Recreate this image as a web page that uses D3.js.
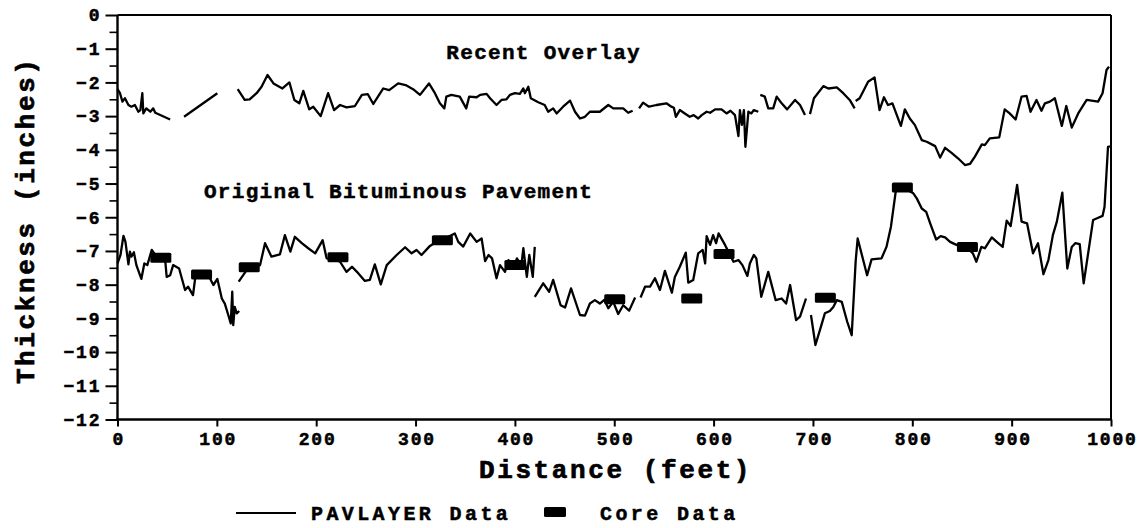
<!DOCTYPE html>
<html>
<head>
<meta charset="utf-8">
<script src="https://cdn.jsdelivr.net/npm/d3@7"></script>
<style>
  html, body { margin: 0; padding: 0; background: #fff; }
  svg { display: block; }
  text { font-family: "Liberation Mono", "DejaVu Sans Mono", monospace; font-weight: bold; fill: #000; stroke: #000; stroke-width: 0.5px; }
</style>
</head>
<body>
<svg id="chart" width="1146" height="528"></svg>
<script>
// ---------------- DATA ----------------
const xTicks = [0, 100, 200, 300, 400, 500, 600, 700, 800, 900, 1000];
const yTicks = [0, -1, -2, -3, -4, -5, -6, -7, -8, -9, -10, -11, -12];
const yMinorTicks = [-0.5, -1.5, -2.5, -3.5, -4.5, -5.5, -6.5, -7.5, -8.5, -9.5, -10.5, -11.5];

// Recent overlay (PAVLAYER), [distance ft, thickness in]; null = gap
const overlayData = [
  [0,-2.2],[2.5,-2.32],[5,-2.57],[7.5,-2.47],[11,-2.67],[14,-2.72],[17.5,-2.67],[21,-2.87],[23,-2.82],[25,-2.32],[26,-2.92],[29,-2.77],[33,-2.87],[36,-2.77],[38,-2.9],[53,-3.1],
  null,
  [67,-3.02],[100.5,-2.32],
  null,
  [121,-2.2],[128,-2.52],[133,-2.5],[140,-2.32],[145,-2.13],[151,-1.78],[157,-2.03],[166,-2.18],[173,-2.0],[178,-2.52],[183,-2.62],[187,-2.25],[193,-2.8],[197,-2.72],[204.5,-3.0],[212,-2.32],[218,-2.82],[224,-2.67],[230.5,-2.74],[239,-2.7],[246,-2.37],[252,-2.35],[257.5,-2.64],[267.5,-2.18],[273.5,-2.23],[282.5,-2.03],[290,-2.08],[297.5,-2.2],[304.5,-2.37],[313.5,-2.03],[319.5,-2.32],[324.5,-2.62],[329,-2.77],[331,-2.42],[336,-2.37],[344.5,-2.42],[351,-2.77],[354,-2.42],[361.5,-2.44],[365,-2.37],[371.5,-2.34],[375,-2.47],[381.5,-2.67],[386.5,-2.52],[391.5,-2.5],[395,-2.37],[400,-2.32],[405,-2.34],[408.5,-2.18],[410,-2.32],[413.5,-2.13],[416,-2.47],[423.5,-2.59],[430,-2.67],[433.5,-2.87],[438.5,-2.77],[442,-2.92],[448.5,-2.72],[455.5,-2.54],[460.5,-2.87],[465.5,-3.07],[470.5,-3.02],[475.5,-2.87],[485.5,-2.87],[494,-2.67],[499,-2.77],[505.5,-2.77],[509,-2.77],[514,-2.9],[518.5,-2.84],
  null,
  [525,-2.77],[529,-2.6],[535,-2.72],[542.5,-2.67],[552.5,-2.62],[557.5,-2.72],[560,-2.75],[562,-3.02],[566,-2.82],[571,-2.92],[576,-3.02],[580,-2.97],[584.5,-3.07],[588,-2.97],[593,-2.87],[596.5,-2.9],[601.5,-2.8],[608,-2.8],[613,-2.92],[617,-2.84],[621.5,-2.97],[625,-3.59],[626.5,-2.82],[628.5,-3.26],[630.5,-2.82],[632,-3.91],[635,-2.87],[638,-2.92],[640.5,-2.82],[645,-2.87],
  null,
  [647,-2.37],[651.5,-2.42],[655,-2.77],[660,-2.77],[663.5,-2.42],[668.5,-2.62],[674,-2.8],[682,-2.52],[687,-2.67],[692,-2.97],
  null,
  [697,-2.94],[701,-2.47],[710.5,-2.11],[715.5,-2.18],[724,-2.15],[730.5,-2.32],[737,-2.52],[742,-2.77],
  null,
  [743,-2.55],[747,-2.47],[750.5,-2.27],[755.5,-1.98],[762,-1.85],[767,-2.82],[771.5,-2.44],[775.5,-2.67],[780,-2.62],[788.5,-3.29],[792.5,-2.8],[797.5,-3.07],[802.5,-3.26],[809.5,-3.71],[814.5,-3.76],[823,-3.89],[828,-4.23],[833,-3.94],[839.5,-4.09],[846,-4.25],[853,-4.45],[858,-4.42],[863,-4.2],[870,-3.84],[873,-3.86],[878,-3.66],[887.5,-3.63],[893,-2.8],[898,-2.92],[904,-3.1],[910,-2.42],[915,-2.4],[919,-2.87],[925,-2.52],[930,-2.84],[933.5,-2.62],[938.5,-2.57],[943.5,-2.47],[950.5,-3.29],[955,-2.7],[960.5,-3.34],[967,-2.92],[975.5,-2.52],[980.5,-2.54],[987,-2.57],[991.5,-2.32],[995.5,-1.63],[998,-1.53]
];

// Original bituminous pavement (PAVLAYER)
const pavementData = [
  [0,-7.37],[3,-7.12],[6,-6.55],[8,-6.73],[11,-7.4],[12.5,-7.02],[14,-7.17],[16.5,-7.04],[19,-7.42],[24,-7.83],[27,-7.37],[30,-7.42],[34.5,-6.97],[40,-7.2],[47,-7.25],[48,-7.27],[49.5,-7.77],[53,-7.72],[56,-7.42],[62,-7.52],[68,-8.16],[71,-8.06],[76,-8.31],[79,-7.62],[86,-7.7],[93,-7.81],[96.5,-8.01],[100.5,-7.83],[105,-8.41],[108,-8.56],[111.5,-8.9],[114,-9.15],[115.5,-8.21],[116.5,-9.2],[118,-8.66],[120,-8.85],[122.5,-8.78],
  null,
  [122,-7.91],[130,-7.57],[137,-7.5],[143.5,-7.42],[148.5,-6.77],[155,-7.17],[163.5,-7.1],[168.5,-6.53],[174,-7.02],[178.5,-6.58],[185.5,-6.77],[192,-6.92],[199,-7.07],[206.5,-6.68],[210.5,-7.22],[218,-7.25],[224,-7.32],[230.5,-7.62],[236,-7.47],[241,-7.62],[249,-7.89],[254,-7.86],[259,-7.4],[265,-7.99],[271,-7.42],[281,-7.12],[289.5,-6.89],[296,-7.07],[301,-6.97],[306,-7.12],[314.5,-6.85],[320,-6.75],[326,-6.68],[339.5,-6.48],[343,-6.73],[348,-6.87],[355,-6.48],[361.5,-6.73],[366.5,-6.63],[370,-7.3],[373.5,-7.12],[377,-7.22],[381.5,-7.81],[385,-7.42],[390,-7.62],[393.5,-7.27],[398.5,-7.52],[402,-7.22],[406.5,-7.42],[408.5,-6.92],[412,-7.77],[414.5,-7.12],[418,-7.77],[420,-6.88],
  null,
  [420,-8.36],[428.5,-7.96],[434.5,-8.21],[438.5,-7.86],[446,-8.61],[450.5,-8.68],[456.5,-8.11],[465.5,-8.9],[470.5,-8.92],[475.5,-8.56],[480.5,-8.46],[485.5,-8.56],[490,-8.45],[494,-8.7],[499,-8.51],[504,-8.87],[509,-8.61],[515,-8.77],[521,-8.38],
  null,
  [526.5,-8.38],[531,-8.06],[536,-8.06],[541,-7.81],[546,-8.16],[551,-7.59],[558,-8.24],[561,-7.77],[566,-7.47],[572,-7.05],[574.5,-7.94],[579.5,-7.86],[584.5,-7.07],[589,-6.97],[591.5,-7.37],[593,-6.56],[596.5,-6.82],[599.5,-6.53],[602.5,-6.77],[605,-6.48],[611.5,-6.82],[620,-7.32],[625,-7.27],[629,-7.42],[634,-7.74],[636.5,-7.37],[640.5,-7.12],[643,-7.22],[648,-8.36],[655,-7.62],[662.5,-8.46],[668.5,-8.41],[673,-8.56],[677,-8.01],[683,-9.05],[687,-8.95],[693,-8.41],
  null,
  [698,-8.9],[702.5,-9.79],[707,-9.35],[712,-8.85],[717,-8.78],[720.5,-8.66],[724,-8.46],[729,-8.51],[734.5,-9.1],[739,-9.5],[743,-7.3],[745,-6.63],[754.5,-7.72],[759,-7.25],[769,-7.22],[774,-6.88],[778.5,-6.28],[784,-5.09],[790,-5.1],[801,-5.29],[804.5,-5.44],[809.5,-5.74],[814,-5.84],[818,-6.18],[824,-6.66],[828.5,-6.56],[833,-6.6],[838,-6.73],[844.5,-6.82],[855,-6.9],[861,-7.07],[864.5,-7.32],[869.5,-6.88],[873,-6.92],[880,-6.6],[885,-6.73],[891,-6.88],[895,-6.1],[899,-6.26],[905.5,-5.04],[910,-6.13],[915.5,-6.18],[921.5,-7.07],[926.5,-6.77],[932,-7.69],[937,-7.27],[941.5,-6.53],[945.5,-6.13],[951,-5.27],[956,-7.52],[960.5,-6.88],[964,-6.77],[968.5,-6.8],[972.5,-7.96],[976.5,-7.17],[982,-6.08],[986,-6.03],[991.5,-5.96],[993.5,-5.69],[997,-3.91],[999,-3.9]
];

// Core data
const coreDistance  = [43.6, 84.6, 132.6, 221.9, 327, 400, 500.5, 578, 610.5, 712.5, 790, 855.5];
const coreThickness = [-7.2, -7.7, -7.48, -7.19, -6.68, -7.42, -8.43, -8.41, -7.09, -8.39, -5.12, -6.88];

const annotations = [
  { text: "Recent Overlay", d: 331, v: -1.31 },
  { text: "Original Bituminous Pavement", d: 87, v: -5.42 }
];
const legendItems = ["PAVLAYER Data", "Core Data"];

// ---------------- DRAW ----------------
const svg = d3.select("#chart");
const L = 117.5, R = 1111, T = 15, B = 419.5;
const x = d3.scaleLinear().domain([0, 1000]).range([L, R]);
const y = d3.scaleLinear().domain([-12, 0]).range([B, T]);

// frame
svg.append("line").attr("x1", L).attr("x2", R).attr("y1", T).attr("y2", T).attr("stroke", "#000").attr("stroke-width", 2);
svg.append("line").attr("x1", R).attr("x2", R).attr("y1", T).attr("y2", B).attr("stroke", "#000").attr("stroke-width", 2);

// y axis
const tickLS = 1.8;
const yAxis = d3.axisLeft(y).tickValues(yTicks).tickSize(12).tickPadding(6).tickFormat(d => d === 0 ? "0" : "\u2212" + Math.abs(d));
const gy = svg.append("g").attr("transform", `translate(${L},0)`).call(yAxis);
gy.select(".domain").remove();
gy.selectAll(".tick line").attr("stroke", "#000").attr("stroke-width", 2);
gy.selectAll(".tick text").attr("font-size", 18).attr("font-family", "Liberation Mono, monospace").attr("font-weight", "bold")
  .style("letter-spacing", tickLS + "px").attr("dx", tickLS).attr("fill", "#000");
const yMinor = d3.axisLeft(y).tickValues(yMinorTicks).tickSize(8).tickFormat("");
const gym = svg.append("g").attr("transform", `translate(${L},0)`).call(yMinor);
gym.select(".domain").remove();
gym.selectAll(".tick line").attr("stroke", "#000").attr("stroke-width", 1.6);
svg.append("line").attr("x1", L).attr("x2", L).attr("y1", T).attr("y2", B + 1).attr("stroke", "#000").attr("stroke-width", 2.4);

// x axis
const xAxis = d3.axisBottom(x).tickValues(xTicks).tickSize(7).tickPadding(6).tickFormat(d3.format("d"));
const gx = svg.append("g").attr("transform", `translate(0,${B})`).call(xAxis);
gx.select(".domain").remove();
gx.selectAll(".tick line").attr("stroke", "#000").attr("stroke-width", 2);
gx.selectAll(".tick text").attr("font-size", 18).attr("font-family", "Liberation Mono, monospace").attr("font-weight", "bold")
  .style("letter-spacing", tickLS + "px").attr("dx", tickLS / 2).attr("fill", "#000");
svg.append("line").attr("x1", L - 1).attr("x2", R + 1).attr("y1", B).attr("y2", B).attr("stroke", "#000").attr("stroke-width", 2.6);

// axis titles
svg.append("text").attr("x", (L + R) / 2 + 1.3).attr("y", 478).attr("text-anchor", "middle")
  .attr("font-size", 26).style("letter-spacing", "2.6px").style("stroke-width", "0.7px").text("Distance (feet)");
svg.append("text").attr("transform", `translate(34,${(T + B) / 2 + 3}) rotate(-90)`).attr("text-anchor", "middle")
  .attr("font-size", 26).style("letter-spacing", "2.6px").style("stroke-width", "0.7px").text("Thickness (inches)");

// lines
const line = d3.line().defined(p => p !== null).x(p => x(p[0])).y(p => y(p[1]));
svg.append("path").datum(overlayData).attr("d", line).attr("fill", "none").attr("stroke", "#000").attr("stroke-width", 2.3).attr("stroke-linejoin", "round");
svg.append("path").datum(pavementData).attr("d", line).attr("fill", "none").attr("stroke", "#000").attr("stroke-width", 2.3).attr("stroke-linejoin", "round");

// core boxes
const boxW = 21, boxH = 10;
svg.append("g").selectAll("rect").data(coreDistance).join("rect")
  .attr("x", (d) => x(d) - boxW / 2)
  .attr("y", (d, i) => y(coreThickness[i]) - boxH / 2)
  .attr("width", boxW).attr("height", boxH).attr("rx", 1.5).attr("fill", "#000");

// annotations
svg.append("g").selectAll("text").data(annotations).join("text")
  .attr("x", a => x(a.d)).attr("y", a => y(a.v))
  .attr("font-size", 21).style("letter-spacing", "1.3px").text(a => a.text);

// legend
const lg = svg.append("g");
lg.append("line").attr("x1", 236).attr("x2", 296).attr("y1", 513).attr("y2", 513).attr("stroke", "#000").attr("stroke-width", 2);
lg.append("text").attr("x", 311).attr("y", 520).attr("font-size", 20).style("letter-spacing", "3.4px").text(legendItems[0]);
lg.append("rect").attr("x", 544).attr("y", 507).attr("width", 22).attr("height", 10).attr("rx", 1.5).attr("fill", "#000");
lg.append("text").attr("x", 600).attr("y", 520).attr("font-size", 20).style("letter-spacing", "3.4px").text(legendItems[1]);
</script>
</body>
</html>
